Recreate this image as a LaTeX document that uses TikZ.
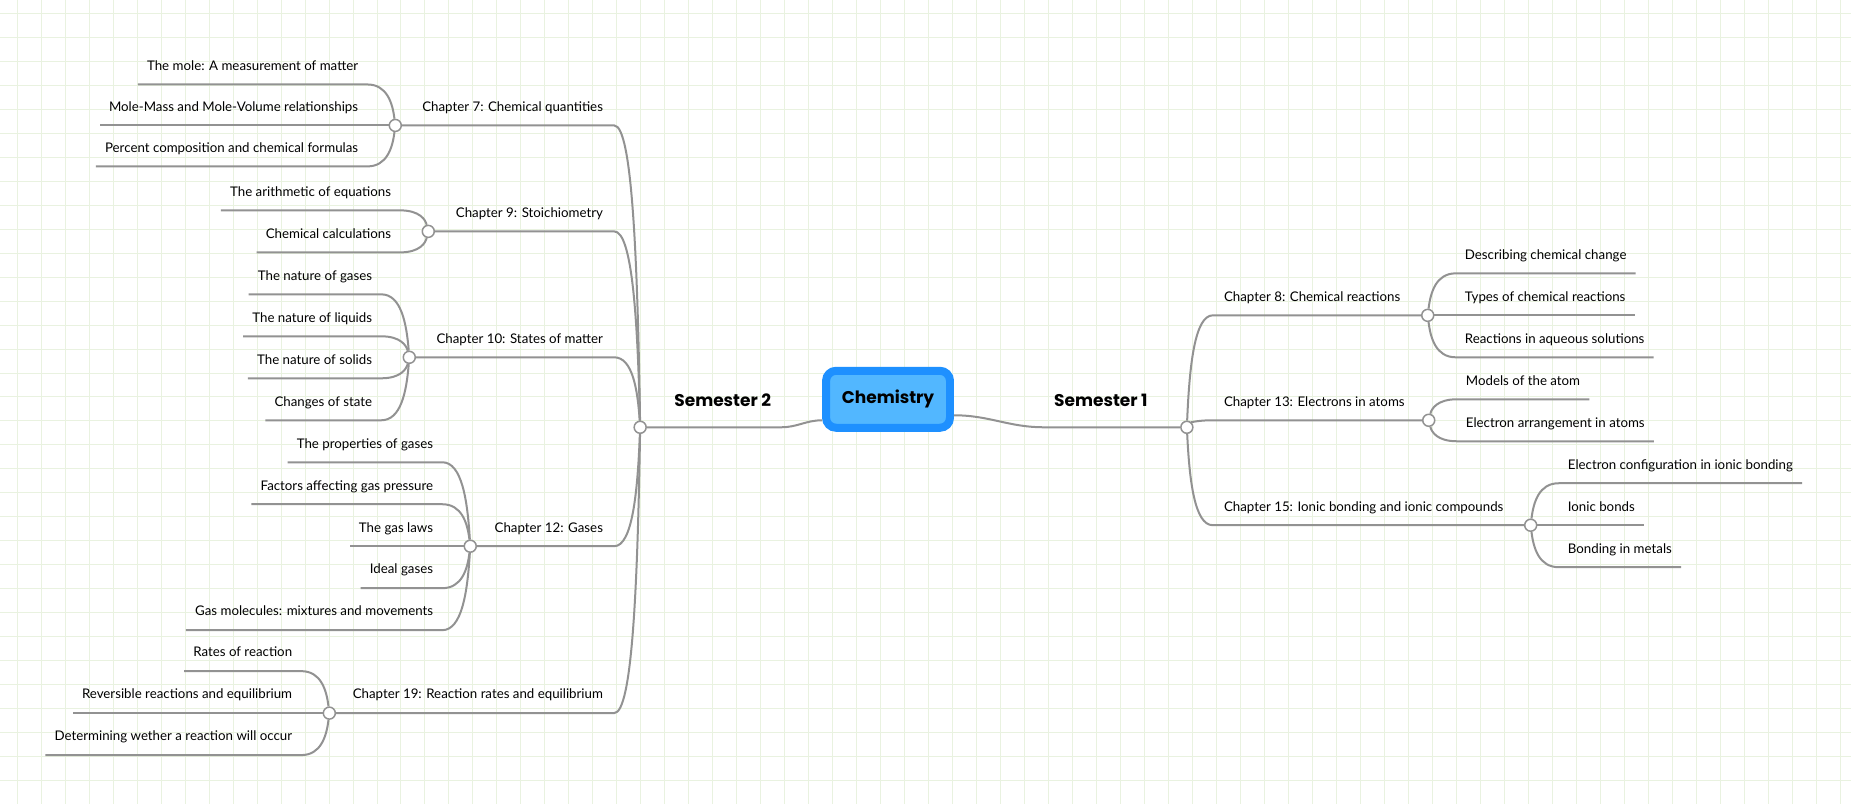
\documentclass[tikz,border=0pt]{standalone}
\usepackage{fontspec}
\setmainfont{Lato}
\newfontfamily\headfont{Poppins}
\usetikzlibrary{calc}
\definecolor{gridgreen}{RGB}{233,242,224}
\definecolor{linegray}{RGB}{146,146,146}
\definecolor{dodger}{RGB}{30,144,255}
\definecolor{skyfill}{RGB}{82,183,255}
\tikzset{
  gridline/.style={gridgreen, line width=1pt},
  branch/.style={linegray, line width=2pt},
  twig/.style={to path={.. controls ($(\tikztostart)!0.5!(\tikztostart |- \tikztotarget)!0.1!(\tikztotarget)$)
                                and ($(\tikztostart |- \tikztotarget)!0.3!(\tikztotarget)$) .. (\tikztotarget)}},
  knob/.style={circle, draw=linegray, fill=white, line width=1.5pt, minimum size=12pt, inner sep=0pt},
  topic/.style={font=\fontsize{13.3}{15}\selectfont, text depth=3pt, inner ysep=11pt, inner xsep=9pt},
  leafL/.style={topic, anchor=south east},
  leafR/.style={topic, anchor=south west},
  chapL/.style={topic, inner xsep=11pt, anchor=south east},
  chapR/.style={topic, inner xsep=11pt, anchor=south west},
  semester/.style={font=\headfont\bfseries\fontsize{17}{20}\selectfont, text depth=4pt, inner ysep=17pt, inner xsep=10pt},
  hub/.style={draw=dodger, fill=skyfill, line width=8pt, rounded corners=10pt,
              minimum width=124pt, minimum height=57pt, font=\headfont\bfseries\fontsize{17}{21}\selectfont},
}
\begin{document}
\begin{tikzpicture}[x=1pt, y=-1pt]
  \fill[white] (0,0) rectangle (1851,804);
  % background grid
  \foreach \gx in {0,...,76} \draw[gridline] ({16.7+24*\gx},0) -- ({16.7+24*\gx},804);
  \foreach \gy in {0,...,32} \draw[gridline] (0,{12.7+24*\gy}) -- (1851,{12.7+24*\gy});

  % central topic and semesters
  \node[hub]                         (chem) at ( 888, 399) {Chemistry};
  \node[semester, anchor=south west] (sem1) at (1044, 427) {Semester 1};
  \node[semester, anchor=south west] (sem2) at ( 664, 427) {Semester 2};
  \node[knob]                        (s1)   at (1187, 427) {};
  \node[knob]                        (s2)   at ( 640, 427) {};

  % semester 1 chapters
  \node[chapR] (ch8)  at (1213, 315) {Chapter 8: Chemical reactions};
  \node[chapR] (ch13) at (1213, 420) {Chapter 13: Electrons in atoms};
  \node[chapR] (ch15) at (1213, 525) {Chapter 15: Ionic bonding and ionic compounds};
  \node[knob]  (c8)   at (1428, 315) {};
  \node[knob]  (c13)  at (1429, 420) {};
  \node[knob]  (c15)  at (1531, 525) {};

  \node[leafR] (l8a)  at (1456, 273) {Describing chemical change};
  \node[leafR] (l8b)  at (1456, 315) {Types of chemical reactions};
  \node[leafR] (l8c)  at (1456, 357) {Reactions in aqueous solutions};
  \node[leafR] (l13a) at (1457, 399) {Models of the atom};
  \node[leafR] (l13b) at (1457, 441) {Electron arrangement in atoms};
  \node[leafR] (l15a) at (1559, 483) {Electron configuration in ionic bonding};
  \node[leafR] (l15b) at (1559, 525) {Ionic bonds};
  \node[leafR] (l15c) at (1559, 567) {Bonding in metals};

  % semester 2 chapters
  \node[chapL] (ch7)  at ( 614, 125) {Chapter 7: Chemical quantities};
  \node[chapL] (ch9)  at ( 614, 231) {Chapter 9: Stoichiometry};
  \node[chapL] (ch10) at ( 614, 357) {Chapter 10: States of matter};
  \node[chapL] (ch12) at ( 614, 546) {Chapter 12: Gases};
  \node[chapL] (ch19) at ( 614, 713) {Chapter 19: Reaction rates and equilibrium};
  \node[knob]  (c7)   at ( 395, 125) {};
  \node[knob]  (c9)   at ( 428, 231) {};
  \node[knob]  (c10)  at ( 409, 357) {};
  \node[knob]  (c12)  at ( 470, 546) {};
  \node[knob]  (c19)  at ( 329, 713) {};

  \node[leafL] (l7a)  at ( 367,  84) {The mole: A measurement of matter};
  \node[leafL] (l7b)  at ( 367, 125) {Mole-Mass and Mole-Volume relationships};
  \node[leafL] (l7c)  at ( 367, 166) {Percent composition and chemical formulas};
  \node[leafL] (l9a)  at ( 400, 210) {The arithmetic of equations};
  \node[leafL] (l9b)  at ( 400, 252) {Chemical calculations};
  \node[leafL] (l10a) at ( 381, 294) {The nature of gases};
  \node[leafL] (l10b) at ( 381, 336) {The nature of liquids};
  \node[leafL] (l10c) at ( 381, 378) {The nature of solids};
  \node[leafL] (l10d) at ( 381, 420) {Changes of state};
  \node[leafL] (l12a) at ( 442, 462) {The properties of gases};
  \node[leafL] (l12b) at ( 442, 504) {Factors affecting gas pressure};
  \node[leafL] (l12c) at ( 442, 546) {The gas laws};
  \node[leafL] (l12d) at ( 442, 588) {Ideal gases};
  \node[leafL] (l12e) at ( 442, 630) {Gas molecules: mixtures and movements};
  \node[leafL] (l19a) at ( 301, 671) {Rates of reaction};
  \node[leafL] (l19b) at ( 301, 713) {Reversible reactions and equilibrium};
  \node[leafL] (l19c) at ( 301, 755) {Determining wether a reaction will occur};

  % connectors
  \draw[branch] ([yshift=-16pt]chem.east) to[out=0, in=180] (sem1.south west) -- (s1);
  \draw[branch] ([yshift=-21pt]chem.west) to[out=180, in=0] (sem2.south east) -- (s2);

  \draw[branch] (s1) to[twig] (ch8.south west)  -- (c8);
  \draw[branch] (s1) to[twig] (ch13.south west) -- (c13);
  \draw[branch] (s1) to[twig] (ch15.south west) -- (c15);
  \draw[branch] (c8)  to[twig] (l8a.south west)  -- (l8a.south east);
  \draw[branch] (c8)  to[twig] (l8b.south west)  -- (l8b.south east);
  \draw[branch] (c8)  to[twig] (l8c.south west)  -- (l8c.south east);
  \draw[branch] (c13) to[twig] (l13a.south west) -- (l13a.south east);
  \draw[branch] (c13) to[twig] (l13b.south west) -- (l13b.south east);
  \draw[branch] (c15) to[twig] (l15a.south west) -- (l15a.south east);
  \draw[branch] (c15) to[twig] (l15b.south west) -- (l15b.south east);
  \draw[branch] (c15) to[twig] (l15c.south west) -- (l15c.south east);

  \draw[branch] (s2) to[twig] (ch7.south east)  -- (c7);
  \draw[branch] (s2) to[twig] (ch9.south east)  -- (c9);
  \draw[branch] (s2) to[twig] (ch10.south east) -- (c10);
  \draw[branch] (s2) to[twig] (ch12.south east) -- (c12);
  \draw[branch] (s2) to[twig] (ch19.south east) -- (c19);
  \draw[branch] (c7)  to[twig] (l7a.south east)  -- (l7a.south west);
  \draw[branch] (c7)  to[twig] (l7b.south east)  -- (l7b.south west);
  \draw[branch] (c7)  to[twig] (l7c.south east)  -- (l7c.south west);
  \draw[branch] (c9)  to[twig] (l9a.south east)  -- (l9a.south west);
  \draw[branch] (c9)  to[twig] (l9b.south east)  -- (l9b.south west);
  \draw[branch] (c10) to[twig] (l10a.south east) -- (l10a.south west);
  \draw[branch] (c10) to[twig] (l10b.south east) -- (l10b.south west);
  \draw[branch] (c10) to[twig] (l10c.south east) -- (l10c.south west);
  \draw[branch] (c10) to[twig] (l10d.south east) -- (l10d.south west);
  \draw[branch] (c12) to[twig] (l12a.south east) -- (l12a.south west);
  \draw[branch] (c12) to[twig] (l12b.south east) -- (l12b.south west);
  \draw[branch] (c12) to[twig] (l12c.south east) -- (l12c.south west);
  \draw[branch] (c12) to[twig] (l12d.south east) -- (l12d.south west);
  \draw[branch] (c12) to[twig] (l12e.south east) -- (l12e.south west);
  \draw[branch] (c19) to[twig] (l19a.south east) -- (l19a.south west);
  \draw[branch] (c19) to[twig] (l19b.south east) -- (l19b.south west);
  \draw[branch] (c19) to[twig] (l19c.south east) -- (l19c.south west);
\end{tikzpicture}
\end{document}
